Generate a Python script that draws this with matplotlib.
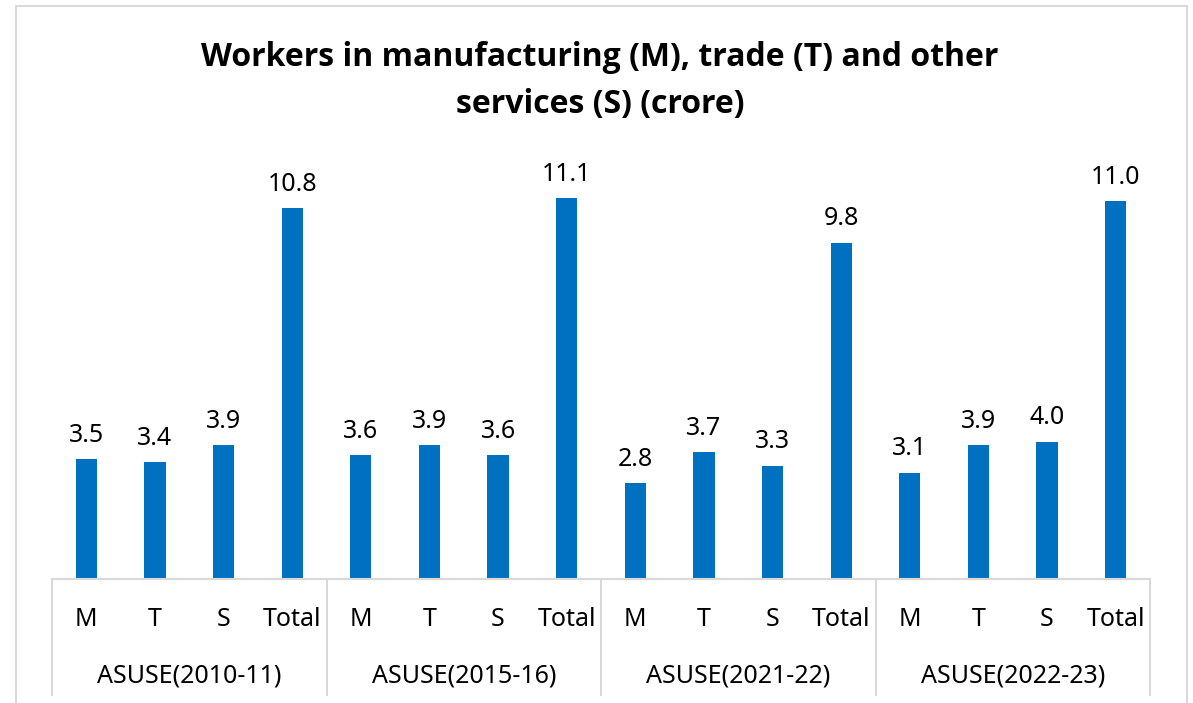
import matplotlib.pyplot as plt
from matplotlib.patches import Rectangle
from matplotlib.lines import Line2D

plt.rcParams['font.family'] = ['Noto Sans', 'DejaVu Sans']

groups = ["ASUSE(2010-11)", "ASUSE(2015-16)", "ASUSE(2021-22)", "ASUSE(2022-23)"]
sectors = ["M", "T", "S", "Total"]
values = [
    [3.5, 3.4, 3.9, 10.8],
    [3.6, 3.9, 3.6, 11.1],
    [2.8, 3.7, 3.3, 9.8],
    [3.1, 3.9, 4.0, 11.0],
]

blue = "#0070C0"
grid = "#D9D9D9"

fig = plt.figure(figsize=(11.93, 7.03), dpi=100)
fig.patches.append(Rectangle((16 / 1193, -0.05), 1171 / 1193, 1.05 - 6 / 703,
                             transform=fig.transFigure, fill=False,
                             edgecolor=grid, linewidth=1.5))

ax = fig.add_axes([52 / 1193, 1 - 579 / 703, 1098 / 1193, 429 / 703])

ns = len(sectors)
x = []
y = []
for g, vals in enumerate(values):
    for s, v in enumerate(vals):
        x.append(g * ns + s)
        y.append(v)

bars = ax.bar(x, y, width=0.31, color=blue)
for xi, yi in zip(x, y):
    ax.text(xi, yi + 0.33, "%.1f" % yi, ha="center", va="bottom", fontsize=18)

ax.set_xlim(-0.5, len(x) - 0.5)
ax.set_ylim(0, 12.5)
for sp in ["top", "right", "left"]:
    ax.spines[sp].set_visible(False)
ax.spines["bottom"].set_color(grid)
ax.spines["bottom"].set_linewidth(1.5)
ax.set_yticks([])
ax.set_xticks(x)
ax.set_xticklabels(sectors * len(groups), fontsize=18)
ax.tick_params(axis="x", length=0, pad=20)

# group labels and separators below the axis
tr = ax.get_xaxis_transform()
for g, name in enumerate(groups):
    ax.text(g * ns + (ns - 1) / 2, -0.227, name, transform=tr, ha="center",
            va="center", fontsize=18)
for g in range(len(groups) + 1):
    xs = g * ns - 0.5
    ax.add_line(Line2D([xs, xs], [0, -0.27], transform=tr, color=grid,
                       linewidth=1.5, clip_on=False))

title_font = ['Open Sans', 'DejaVu Sans']
fig.text(0.503, 1 - 57 / 703, "Workers in manufacturing (M), trade (T) and other",
         ha="center", va="center", fontsize=23, fontweight="bold", family=title_font)
fig.text(0.503, 1 - 105 / 703, "services (S) (crore)",
         ha="center", va="center", fontsize=23, fontweight="bold", family=title_font)

fig.savefig("out.png", dpi=100)
